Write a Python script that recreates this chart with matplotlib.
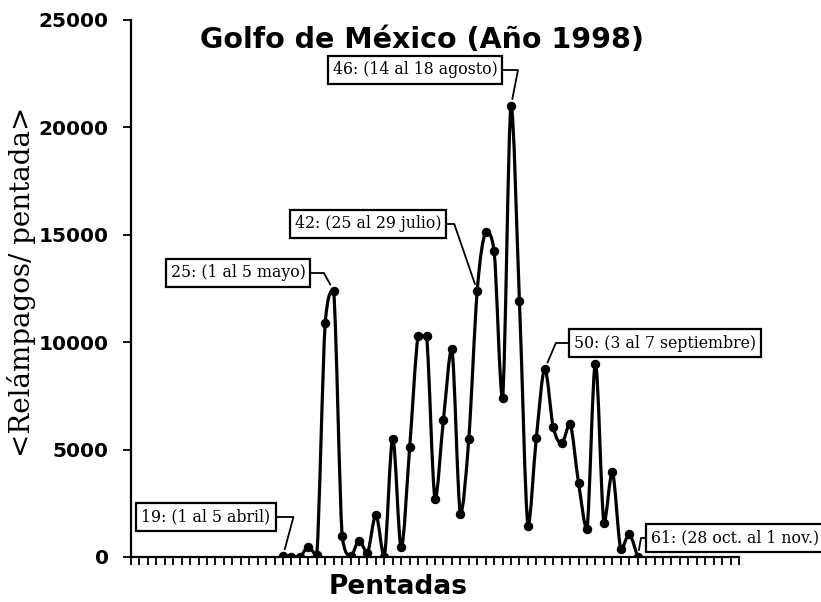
import numpy as np
import matplotlib
matplotlib.use("Agg")
import matplotlib.pyplot as plt
from matplotlib.path import Path
from matplotlib.patches import PathPatch

# ---- data ----
pentadas = list(range(19, 62))
relampagos = [50, 20, 0, 480, 80, 10900, 12400, 1000, 50, 750,
              200, 1950, 0, 5500, 450, 5100, 10300, 10300, 2700, 6400,
              9700, 2000, 5500, 12400, 15150, 14250, 7400, 21000, 11900, 1450,
              5550, 8750, 6050, 5300, 6200, 3450, 1300, 9000, 1600, 3950,
              350, 1050, 0]
yticks = [0, 5000, 10000, 15000, 20000, 25000]
title = "Golfo de México (Año 1998)"
xlabel = "Pentadas"
ylabel = "<Relámpagos/ pentada>"
ann_pentadas = [19, 25, 42, 46, 50, 61]
ann_texts = ["19: (1 al 5 abril)", "25: (1 al 5 mayo)", "42: (25 al 29 julio)",
             "46: (14 al 18 agosto)", "50: (3 al 7 septiembre)", "61: (28 oct. al 1 nov.)"]

W, H = 821, 602
fig = plt.figure(figsize=(W / 100, H / 100), dpi=100)
ax = fig.add_axes([131 / W, 1 - 557 / H, (739 - 131) / W, (557 - 20) / H])

x = np.array(pentadas, dtype=float)
y = np.array(relampagos, dtype=float)

# smoothed line (Catmull-Rom Bezier, control points clamped to avoid overshoot)
verts = [(x[0], y[0])]
codes = [Path.MOVETO]
n = len(x)
for i in range(n - 1):
    p0 = np.array([x[max(i - 1, 0)], y[max(i - 1, 0)]])
    p1 = np.array([x[i], y[i]])
    p2 = np.array([x[i + 1], y[i + 1]])
    p3 = np.array([x[min(i + 2, n - 1)], y[min(i + 2, n - 1)]])
    c1 = p1 + (p2 - p0) / 6.0
    c2 = p2 - (p3 - p1) / 6.0
    lo, hi = min(p1[1], p2[1]), max(p1[1], p2[1])
    c1[1] = np.clip(c1[1], lo, hi)
    c2[1] = np.clip(c2[1], lo, hi)
    verts += [tuple(c1), tuple(c2), tuple(p2)]
    codes += [Path.CURVE4] * 3
ax.add_patch(PathPatch(Path(verts, codes), fc="none", ec="black", lw=2.3,
                       joinstyle="round", capstyle="round", zorder=3))
ax.plot(x, y, ls="none", marker="o", ms=5.8, color="black", zorder=4)

ax.set_xlim(1, 73)
ax.set_ylim(0, 25000)
ax.set_yticks(yticks)
ax.set_yticklabels([str(v) for v in yticks], fontsize=14.5, fontweight="bold",
                   family="DejaVu Sans")
ax.set_xticks(np.arange(1, 74))
ax.set_xticklabels([])
ax.tick_params(axis="x", direction="out", length=6, width=1.3)
ax.tick_params(axis="y", direction="out", length=6, width=1.3, pad=10)
for s in ["top", "right"]:
    ax.spines[s].set_visible(False)
for s in ["left", "bottom"]:
    ax.spines[s].set_linewidth(1.6)

fig.text(422 / W, 1 - 40 / H, title, ha="center", va="center", fontsize=20.5,
         fontweight="bold", family="DejaVu Sans")
fig.text(398 / W, 1 - 587 / H, xlabel, ha="center", va="center", fontsize=19,
         fontweight="bold", family="DejaVu Sans")
fig.text(22 / W, 1 - 282 / H, ylabel, ha="center", va="center", rotation=90,
         fontsize=20, family="DejaVu Serif")

# annotation boxes: (text anchor px, ha, relpos, angleB)
layout = [
    ((206, 517), "center", (1, 0.5), 75),
    ((238, 273), "center", (1, 0.5), 119),
    ((368, 224), "center", (1, 0.5), 109),
    ((415, 70), "center", (1, 0.5), 79),
    ((665, 343), "center", (0, 0.5), 67),
    ((651, 538), "left", (0, 0.5), 80),
]
for p, txt, (pos, ha, rel, angB) in zip(ann_pentadas, ann_texts, layout):
    yi = relampagos[pentadas.index(p)]
    ax.annotate(txt, xy=(p, yi), xycoords="data",
                xytext=(pos[0] / W, 1 - pos[1] / H), textcoords="figure fraction",
                ha=ha, va="center", fontsize=11.3, family="DejaVu Serif",
                bbox=dict(boxstyle="square,pad=0.32", fc="white", ec="black", lw=1.6),
                arrowprops=dict(arrowstyle="-", color="black", lw=1.3,
                                connectionstyle=f"angle,angleA=0,angleB={angB},rad=0",
                                relpos=rel, shrinkA=0, shrinkB=5),
                zorder=5, annotation_clip=False)

fig.savefig("out.png", dpi=100)
